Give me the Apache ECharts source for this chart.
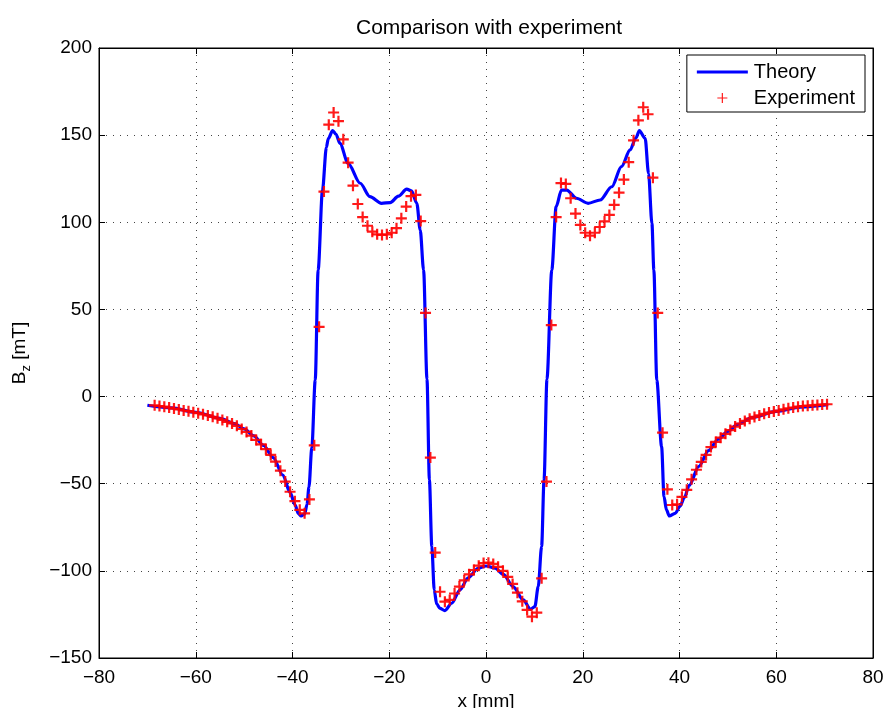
<!DOCTYPE html>
<html>
<head>
<meta charset="utf-8">
<script src="https://cdn.jsdelivr.net/npm/echarts@6/dist/echarts.min.js"></script>
<style>
    html, body { margin: 0; padding: 0; background: #fff; }
    #chart { width: 885px; height: 708px; }
</style>
</head>
<body>
<div id="chart"></div>
<script>
// measured field, one point per mm
const expX = [
    -68.5, -67.5, -66.5, -65.5, -64.5, -63.5, -62.5, -61.5, -60.5, -59.5,
    -58.5, -57.5, -56.5, -55.5, -54.5, -53.5, -52.5, -51.5, -50.5, -49.5,
    -48.5, -47.5, -46.5, -45.5, -44.5, -43.5, -42.5, -41.5, -40.5, -39.5,
    -38.5, -37.5, -36.5, -35.5, -34.5, -33.5, -32.5, -31.5, -30.5, -29.5,
    -28.5, -27.5, -26.5, -25.5, -24.5, -23.5, -22.5, -21.5, -20.5, -19.5,
    -18.5, -17.5, -16.5, -15.5, -14.5, -13.5, -12.5, -11.5, -10.5, -9.5,
    -8.5, -7.5, -6.5, -5.5, -4.5, -3.5, -2.5, -1.5, -0.5, 0.5,
    1.5, 2.5, 3.5, 4.5, 5.5, 6.5, 7.5, 8.5, 9.5, 10.5,
    11.5, 12.5, 13.5, 14.5, 15.5, 16.5, 17.5, 18.5, 19.5, 20.5,
    21.5, 22.5, 23.5, 24.5, 25.5, 26.5, 27.5, 28.5, 29.5, 30.5,
    31.5, 32.5, 33.5, 34.5, 35.5, 36.5, 37.5, 38.5, 39.5, 40.5,
    41.5, 42.5, 43.5, 44.5, 45.5, 46.5, 47.5, 48.5, 49.5, 50.5,
    51.5, 52.5, 53.5, 54.5, 55.5, 56.5, 57.5, 58.5, 59.5, 60.5,
    61.5, 62.5, 63.5, 64.5, 65.5, 66.5, 67.5, 68.5, 69.5, 70.5
];
const expY = [
    -5.0, -5.4, -5.8, -6.3, -6.9, -7.4, -8.0, -8.4, -9.0, -9.5,
    -10.2, -10.8, -11.6, -12.5, -13.4, -14.5, -15.4, -16.8, -18.6, -20.3,
    -22.4, -24.9, -27.4, -30.2, -33.5, -37.3, -42.5, -48.8, -54.6, -60.0,
    -65.0, -67.0, -59.0, -28.0, 40.0, 117.6, 156.0, 163.0, 158.0, 147.6,
    134.2, 121.0, 110.5, 103.0, 98.0, 94.6, 93.1, 92.7, 93.1, 94.0,
    96.6, 102.3, 109.0, 115.0, 115.7, 100.7, 48.0, -35.0, -89.5, -112.0,
    -117.7, -116.7, -113.0, -109.0, -105.5, -102.0, -99.5, -97.0, -95.5, -95.3,
    -96.0, -97.7, -100.0, -103.5, -107.5, -112.5, -117.5, -122.4, -126.3, -124.0,
    -104.3, -48.8, 41.0, 103.0, 122.5, 122.0, 113.8, 105.0, 98.5, 94.0,
    92.3, 94.0, 97.3, 100.5, 104.2, 110.0, 117.0, 124.5, 134.5, 147.0,
    158.5, 166.0, 162.0, 125.6, 48.0, -20.7, -53.2, -62.2, -61.8, -57.5,
    -53.5, -47.5, -42.0, -37.5, -33.5, -29.0, -26.0, -23.6, -21.4, -19.2,
    -17.2, -15.5, -14.0, -12.7, -11.7, -10.8, -9.9, -9.2, -8.6, -8.0,
    -7.3, -6.7, -6.3, -5.8, -5.4, -5.2, -5.0, -4.8, -4.6, -4.4
];

const theoryX = [
    -70, -65, -60, -55, -52, -50, -48, -46, -44, -42,
    -40.5, -39.5, -38.8, -38.2, -37.5, -37, -36.6, -36, -35.3, -34.7,
    -33.8, -33, -32.6, -31.7, -31, -30.2, -28.5, -26, -24, -21.6,
    -19.8, -18.1, -16.4, -15.4, -14.3, -13.6, -12.9, -12.2, -11.7, -11.2,
    -10.7, -10.2, -9.5, -8.5, -7.1, -5.4, -3.7, -1.6, 0, 1.9,
    3.6, 5.6, 7.7, 9.2, 10.1, 10.8, 11.5, 12, 12.6, 13.6,
    14.5, 15.6, 16.7, 18.7, 21.1, 23.6, 26, 28, 29.8, 31,
    31.7, 32.9, 33.6, 34.3, 34.7, 35.3, 36.3, 36.8, 37.3, 37.9,
    39.1, 40.1, 41, 42, 44, 46, 48, 50, 52, 55,
    60, 65, 70.75
];
const theoryY = [
    -5, -6.5, -9, -12.5, -15.5, -18.5, -22.5, -28, -35, -45,
    -55, -62, -67, -68.5, -67.5, -62, -52, -29, 9.5, 72.6,
    118.5, 143, 148, 152.6, 150.5, 145.3, 133.8, 122.4, 114.7, 110.9,
    111.3, 115, 119, 118, 110.9, 95.6, 72.6, 10, -47.8, -86,
    -111, -119, -121.5, -122.8, -118.6, -111, -104, -98.5, -97.2, -98.5,
    -102, -109, -116.7, -122, -120.5, -109, -86, -47.8, 10, 72.6,
    109, 118.5, 118.5, 113.8, 110.9, 112.8, 120.4, 131.9, 141.5, 148.5,
    152.6, 148.2, 128, 99.4, 72.6, 9.5, -28.7, -57.4, -65, -68.5,
    -67, -63, -58, -51, -40, -31, -24.5, -20, -16, -12,
    -8.5, -6, -4.6
];

const FONT = 'Liberation Sans, Arial, Helvetica, sans-serif';
const PLUS = 'path://M4,0H6V4H10V6H6V10H4V6H0V4H4Z';
const PLUS_THIN = 'path://M4.4,0H5.6V4.4H10V5.6H5.6V10H4.4V5.6H0V4.4H4.4Z';
const BAR = 'path://M0,0H51V3H0Z';

function minus(v) {
    return String(v).replace('-', '\u2212');
}

const chart = echarts.init(document.getElementById('chart'));

const option = {
    animation: false,
    backgroundColor: '#fff',
    title: {
        text: 'Comparison with experiment',
        left: 351,
        top: 13,
        textStyle: { fontFamily: FONT, fontSize: 21, fontWeight: 'normal', color: '#000' }
    },
    legend: {
        orient: 'vertical',
        right: 20,
        top: 55,
        padding: [7, 10, 4, 10],
        itemWidth: 51,
        itemHeight: 10,
        itemGap: 6,
        borderColor: '#000',
        borderWidth: 1,
        backgroundColor: '#fff',
        textStyle: { fontFamily: FONT, fontSize: 20, color: '#000', padding: [0, 0, 0, 1] },
        data: [
            { name: 'Theory', icon: BAR, itemStyle: { color: '#0000ff' } },
            { name: 'Experiment', icon: PLUS_THIN, itemStyle: { color: '#ff0000' } }
        ]
    },
    grid: {
        left: 99,
        top: 48,
        right: 12,
        bottom: 50,
        outerBoundsMode: 'none',
        show: true,
        borderColor: '#000',
        borderWidth: 1
    },
    xAxis: [
        {
            type: 'value',
            min: -80,
            max: 80,
            interval: 20,
            name: 'x [mm]',
            nameLocation: 'middle',
            nameGap: 32,
            nameTextStyle: { fontFamily: FONT, fontSize: 19, color: '#000' },
            axisLine: { show: true, onZero: false, lineStyle: { color: '#000' } },
            axisTick: { show: true, inside: true, length: 6, lineStyle: { color: '#000' } },
            axisLabel: { fontFamily: FONT, fontSize: 19, color: '#000', margin: 10, formatter: minus },
            splitLine: { show: true, lineStyle: { color: '#444', type: [1, 6] } }
        },
        {
            type: 'value',
            position: 'top',
            min: -80,
            max: 80,
            interval: 20,
            axisLine: { show: true, onZero: false, lineStyle: { color: '#000' } },
            axisTick: { show: true, inside: true, length: 6, lineStyle: { color: '#000' } },
            axisLabel: { show: false },
            splitLine: { show: false }
        }
    ],
    yAxis: [
        {
            type: 'value',
            min: -150,
            max: 200,
            interval: 50,
            name: '{b|B}{s|z}{b| [mT]}',
            nameLocation: 'middle',
            nameGap: 66,
            nameTextStyle: {
                fontFamily: FONT,
                color: '#000',
                rich: {
                    b: { fontFamily: FONT, fontSize: 19, color: '#000', lineHeight: 26 },
                    s: { fontFamily: FONT, fontSize: 13, color: '#000', lineHeight: 13, verticalAlign: 'bottom' }
                }
            },
            axisLine: { show: true, onZero: false, lineStyle: { color: '#000' } },
            axisTick: { show: true, inside: true, length: 6, lineStyle: { color: '#000' } },
            axisLabel: { fontFamily: FONT, fontSize: 19, color: '#000', margin: 7, formatter: minus },
            splitLine: { show: true, lineStyle: { color: '#444', type: [1, 6] } }
        },
        {
            type: 'value',
            position: 'right',
            min: -150,
            max: 200,
            interval: 50,
            axisLine: { show: true, onZero: false, lineStyle: { color: '#000' } },
            axisTick: { show: true, inside: true, length: 6, lineStyle: { color: '#000' } },
            axisLabel: { show: false },
            splitLine: { show: false }
        }
    ],
    series: [
        {
            name: 'Theory',
            type: 'line',
            data: theoryX.map((x, i) => [x, theoryY[i]]),
            showSymbol: false,
            symbol: 'none',
            smooth: 0.3,
            smoothMonotone: 'x',
            lineStyle: { color: '#0000ff', width: 3.2 },
            itemStyle: { color: '#0000ff' },
            z: 2
        },
        {
            name: 'Experiment',
            type: 'scatter',
            data: expX.map((x, i) => [x, expY[i]]),
            symbol: PLUS,
            symbolSize: 11,
            itemStyle: { color: '#ff0000', opacity: 0.9 },
            z: 3
        }
    ]
};

chart.setOption(option);
</script>
</body>
</html>
